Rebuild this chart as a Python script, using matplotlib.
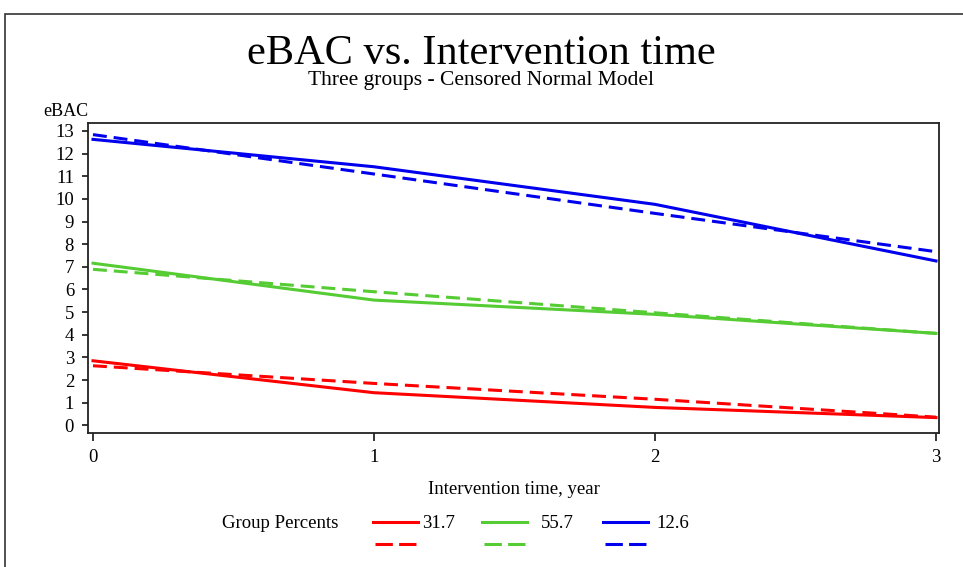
import matplotlib
matplotlib.use('Agg')
import matplotlib.pyplot as plt
from matplotlib.lines import Line2D
from matplotlib.patches import Rectangle

plt.rcParams['font.family'] = ['Liberation Serif', 'DejaVu Serif']
plt.rcParams['lines.scale_dashes'] = False

# data
years = [0, 1, 2, 3]
group_percents = ['31.7', '55.7', '12.6']
group_colors = ['#ff0000', '#55cc33', '#0000ee']

# solid lines
red_solid = [2.85, 1.44, 0.79, 0.34]
green_solid = [7.16, 5.53, 4.90, 4.06]
blue_solid = [12.63, 11.42, 9.76, 7.26]

# dashed lines
red_dashed = [2.63, 1.85, 1.15, 0.36]
green_dashed = [6.89, 5.90, 4.97, 4.06]
blue_dashed = [12.84, 11.10, 9.36, 7.67]

solid = [red_solid, green_solid, blue_solid]
dashed = [red_dashed, green_dashed, blue_dashed]

W, H = 963, 567
fig = plt.figure(figsize=(W / 100, H / 100), dpi=100)

# outer frame (only top and left edges are inside the picture)
fig.add_artist(Rectangle((5 / W, -0.2), 1.2, 0.2 + 1 - 14 / H, transform=fig.transFigure,
                         fill=False, edgecolor='#333333', linewidth=1.2))

ax = fig.add_axes([88 / W, 1 - 432.5 / H, (939 - 88) / W, (432.5 - 123) / H])

for c, s, d in zip(group_colors, solid, dashed):
    ax.plot(years, s, color=c, linewidth=2.2, solid_joinstyle='round')
    ax.plot(years, d, color=c, linewidth=2.2, dashes=(10, 5))

ax.set_xlim(-0.0178, 3.0107)
ax.set_ylim(-0.318, 13.353)
ax.set_xticks(years)
ax.set_yticks(range(0, 14))
for sp in ax.spines.values():
    sp.set_linewidth(1.3)
    sp.set_color('#222222')
ax.tick_params(axis='y', length=4, width=1.1, pad=6, labelsize=13.5, direction='out')
ax.tick_params(axis='x', length=6, width=1.1, pad=6, labelsize=13.5, direction='out')
ax.set_xlabel('Intervention time, year', fontsize=13.5, labelpad=11)

fig.text(43 / W, 1 - 111 / H, 'eBAC', fontsize=13, ha='left', va='center')

fig.text(481 / W, 1 - 54 / H, 'eBAC vs. Intervention time', fontsize=30.5,
         ha='center', va='center')
fig.text(481 / W, 1 - 81 / H, 'Three groups - Censored Normal Model', fontsize=15.5,
         ha='center', va='center')

# legend
fig.text(222 / W, 1 - 523 / H, 'Group Percents', fontsize=13.5, ha='left', va='center')
leg_x = [373, 482, 603]
lab_x = [422, 541, 656]
for c, p, lx, tx in zip(group_colors, group_percents, leg_x, lab_x):
    fig.add_artist(Line2D([lx / W, (lx + 45) / W], [1 - 522 / H] * 2,
                          transform=fig.transFigure, color=c, linewidth=2.2))
    fig.add_artist(Line2D([(lx + 2) / W, (lx + 43) / W], [1 - 544 / H] * 2,
                          transform=fig.transFigure, color=c, linewidth=2.2, dashes=(12.5, 4.5)))
    fig.text(tx / W, 1 - 523 / H, p, fontsize=13.5, ha='left', va='center')

fig.savefig('out.png', dpi=100)
